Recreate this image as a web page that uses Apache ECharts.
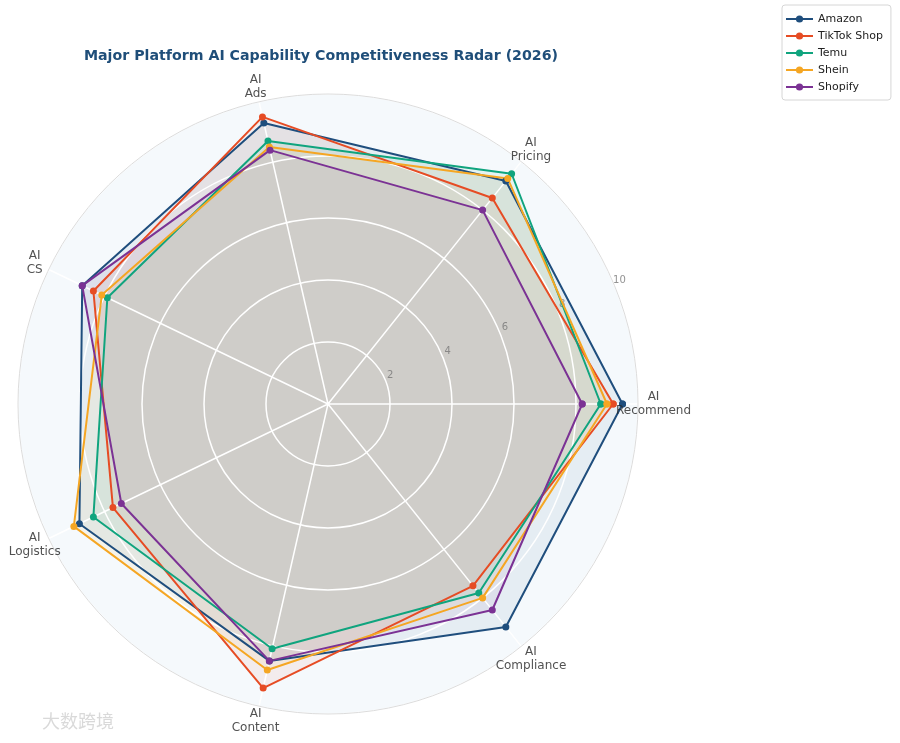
<!DOCTYPE html>
<html>
<head>
<meta charset="utf-8">
<title>AI Capability Radar</title>
<script src="https://cdn.jsdelivr.net/npm/echarts@6/dist/echarts.min.js"></script>
<style>
  html, body { margin: 0; padding: 0; background: #fff; }
  #chart { width: 900px; height: 743px; }
</style>
</head>
<body>
<div id="chart"></div>
<script>
// dimensions, counter-clockwise starting from the right
const dimensions = ['AI\nRecommend', 'AI\nPricing', 'AI\nAds', 'AI\nCS', 'AI\nLogistics', 'AI\nContent', 'AI\nCompliance'];
const platforms = ['Amazon', 'TikTok Shop', 'Temu', 'Shein', 'Shopify'];

// scores 0-10, same order as dimensions
const amazon = [9.5, 9.2, 9.3, 8.8, 8.9, 8.5, 9.2];
const tiktokShop = [9.2, 8.5, 9.5, 8.4, 7.7, 9.4, 7.5];
const temu = [8.8, 9.5, 8.7, 7.9, 8.4, 8.1, 7.8];
const shein = [9.0, 9.3, 8.5, 8.1, 9.1, 8.8, 8.0];
const shopify = [8.2, 8.0, 8.4, 8.8, 7.4, 8.5, 8.5];

const radiusTicks = [2, 4, 6, 8, 10];

const scores = [amazon, tiktokShop, temu, shein, shopify];
const colors = ['#1f4e7d', '#e64c24', '#10a47e', '#f5a623', '#7b3294'];

const center = [328, 404];
const labelRadius = 10.5;      // where the dimension names sit
const tickLabelAngle = 22.5;   // matplotlib default rlabel angle
const nDim = dimensions.length;

// angle axis runs 0..nDim so the polygon can close at nDim (== 0)
function closedRing(values) {
    let pts = values.map((v, i) => [v, i]);
    pts.push([values[0], nDim]);
    return pts;
}

let myChart = echarts.init(document.getElementById('chart'));

// filled areas sit under the grid, like matplotlib does it
let areaSeries = platforms.map((name, k) => ({
    type: 'line',
    coordinateSystem: 'polar',
    polarIndex: 0,
    data: closedRing(scores[k]),
    symbol: 'none',
    clip: false,
    silent: true,
    itemStyle: { color: colors[k] },
    lineStyle: { width: 0, opacity: 0 },
    areaStyle: { color: colors[k], opacity: 0.07 },
    z: 1
}));

// outlines with markers above the grid
let lineSeries = platforms.map((name, k) => ({
    name: name,
    type: 'line',
    coordinateSystem: 'polar',
    polarIndex: 0,
    data: closedRing(scores[k]),
    symbol: 'circle',
    symbolSize: 7,
    clip: false,
    itemStyle: { color: colors[k] },
    lineStyle: { width: 2, color: colors[k] },
    z: 4
}));

let series = areaSeries.concat(lineSeries);

// dimension names, centred on their spoke just outside the circle
series.push({
    type: 'scatter',
    coordinateSystem: 'polar',
    polarIndex: 0,
    data: dimensions.map((d, i) => [labelRadius, i]),
    symbolSize: 1,
    itemStyle: { color: 'transparent' },
    clip: false,
    silent: true,
    z: 5,
    label: {
        show: true,
        position: 'inside',
        formatter: p => dimensions[p.dataIndex],
        color: '#262626',
        fontSize: 12,
        lineHeight: 14,
        align: 'center'
    }
});

// radius tick labels along 22.5 degrees
series.push({
    type: 'scatter',
    coordinateSystem: 'polar',
    polarIndex: 1,
    data: radiusTicks.map(t => [t, tickLabelAngle]),
    symbolSize: 1,
    itemStyle: { color: 'transparent' },
    clip: false,
    silent: true,
    z: 2,
    label: {
        show: true,
        position: 'inside',
        formatter: p => String(radiusTicks[p.dataIndex]),
        color: '#777777',
        fontSize: 10,
        offset: [5, -5]
    }
});

let option = {
    animation: false,
    color: colors,
    textStyle: { fontFamily: 'DejaVu Sans' },
    title: {
        text: 'Major Platform AI Capability Competitiveness Radar (2026)',
        left: 316,
        top: 44,
        textAlign: 'center',
        textStyle: { color: '#1f4e79', fontSize: 14.2, fontWeight: 'bold', fontFamily: 'DejaVu Sans' }
    },
    legend: {
        data: platforms,
        orient: 'vertical',
        left: 782,
        top: 5,
        padding: [7, 8, 6, 3],
        itemWidth: 27,
        itemHeight: 9,
        itemGap: 3,
        backgroundColor: '#ffffff',
        borderColor: '#d6d6d6',
        borderWidth: 1,
        borderRadius: 3,
        textStyle: { color: '#222', fontSize: 11, lineHeight: 14, fontFamily: 'DejaVu Sans' }
    },
    // polar 0 carries data and grid, polar 1 the background disc and tick labels
    polar: [
        { center: center, radius: 310 },
        { center: center, radius: 310 }
    ],
    angleAxis: [{
        polarIndex: 0,
        type: 'value',
        min: 0,
        max: nDim,
        interval: 1,
        startAngle: 0,
        clockwise: false,
        z: 3,
        axisLine: { lineStyle: { color: '#dcdcdc', width: 1 } },
        axisTick: { show: false },
        axisLabel: { show: false },
        splitLine: { show: true, lineStyle: { color: '#ffffff', width: 1.5 } }
    }, {
        polarIndex: 1,
        type: 'value',
        min: 0,
        max: 360,
        startAngle: 0,
        clockwise: false,
        z: 0,
        axisLine: { show: false },
        axisTick: { show: false },
        axisLabel: { show: false },
        splitLine: { show: false }
    }],
    radiusAxis: [{
        polarIndex: 0,
        type: 'value',
        min: 0,
        max: 10,
        interval: 2,
        z: 3,
        axisLine: { show: false },
        axisTick: { show: false },
        axisLabel: { show: false },
        splitLine: { show: true, lineStyle: { color: '#ffffff', width: 1.5 } },
        splitArea: { show: false }
    }, {
        polarIndex: 1,
        type: 'value',
        min: 0,
        max: 10,
        interval: 10,
        z: 0,
        axisLine: { show: false },
        axisTick: { show: false },
        axisLabel: { show: false },
        splitLine: { show: false },
        splitArea: { show: true, areaStyle: { color: ['#f5f9fc'] } }
    }],
    graphic: [{
        type: 'text',
        left: 42,
        top: 712,
        silent: true,
        style: { text: '大数跨境', fill: 'rgba(185,185,185,0.55)', font: '18px "Noto Sans CJK SC"' }
    }],
    series: series
};

myChart.setOption(option);
window.addEventListener('resize', function () {
    myChart.resize();
});
</script>
</body>
</html>
